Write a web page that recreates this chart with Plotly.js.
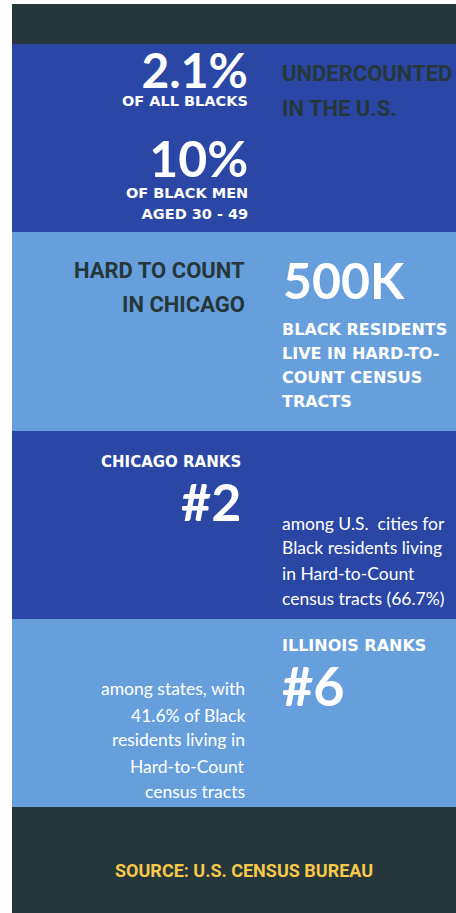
<!DOCTYPE html>
<html><head><meta charset="utf-8">
<script src="https://cdn.plot.ly/plotly-3.0.1.min.js"></script>
<style>html,body{margin:0;padding:0;background:#fff;overflow:hidden}</style>
</head><body><div id="chart" style="width:456px;height:913px"></div>
<script>
// ---- data ----
const sections = ['header', 'undercount', 'hardToCount', 'chicagoRank', 'illinoisRank', 'source'];
const sectionHeights = [40, 188, 199, 188, 188, 106];
const undercountStats = ['2.1%', '10%'];
const undercountLabels = ['OF ALL BLACKS', 'OF BLACK MEN', 'AGED 30 - 49'];
const undercountTitle = ['UNDERCOUNTED', 'IN THE U.S.'];
const hardTitle = ['HARD TO COUNT', 'IN CHICAGO'];
const hardStat = '500K';
const hardLabel = ['BLACK RESIDENTS', 'LIVE IN HARD-TO-', 'COUNT CENSUS', 'TRACTS'];
const chicagoTitle = 'CHICAGO RANKS';
const chicagoRank = '#2';
const chicagoText = ['among U.S.\u00a0 cities for', 'Black residents living', 'in Hard-to-Count', 'census tracts (66.7%)'];
const illinoisTitle = 'ILLINOIS RANKS';
const illinoisRank = '#6';
const illinoisText = ['among states, with', '41.6% of Black', 'residents living in', 'Hard-to-Count', 'census tracts'];
const sourceText = 'SOURCE: U.S. CENSUS BUREAU';

// ---- style ----
const DARK = '#25373b', BLUE = '#2a47a5', LIGHT = '#679fdd', WHITE = '#ffffff', YELLOW = '#f7c84a';
const sectionColors = [DARK, BLUE, LIGHT, BLUE, LIGHT, DARK];
const L = 12, T = 4, W = 456, H = 913, PW = W - L;

const bases = [];
sectionHeights.reduce((acc, h) => { bases.push(acc); return acc + h; }, 0);
const total = sectionHeights.reduce((a, b) => a + b, 0);

const trace = {
  type: 'bar', x: sections.map(() => 0), y: sectionHeights, base: bases,
  width: 1, marker: { color: sectionColors, line: { width: 0 } },
  hoverinfo: 'skip', text: sections, textposition: 'none'
};

const big = (size, color) => ({ family: 'Lato, Roboto, sans-serif', size: size, color: color, weight: 700 });
const heavy = (size, color) => ({ family: '"DejaVu Sans", sans-serif', size: size, color: color, weight: 700 });
const cond = (size, color) => ({ family: 'Roboto, sans-serif', size: size, color: color, weight: 700 });
const body = (size, color) => ({ family: 'Lato, sans-serif', size: size, color: color, weight: 400 });

const anns = [];
function ann(text, xp, yp, anchor, font, yanchor) {
  const dx = anchor === 'left' ? -2.5 : anchor === 'right' ? 2.5 : 0;
  anns.push({ text: text, xref: 'paper', x: (xp + dx - L) / PW, yref: 'y', y: yp - T,
    xanchor: anchor, yanchor: yanchor || 'middle', showarrow: false, font: font,
    align: anchor === 'center' ? 'center' : anchor });
}
const bigSpan = (t, size) => `<span style="font-family:Lato;font-weight:700;font-size:${size}px">${t}</span>`;
const smallSpan = (t, size) => `<span style="font-size:${size}px">${t}</span>`;

// stat + label blocks (line spacing = 1.3 x annotation font size)
ann(bigSpan(undercountStats[0], 48) + '<br>' + smallSpan(undercountLabels[0], 14.5),
    247, 111, 'right', heavy(13.85, WHITE), 'bottom');
ann(bigSpan(undercountStats[1], 50) + '<br>' + smallSpan(undercountLabels[1], 14.5) + '<br>' + smallSpan(undercountLabels[2], 14.5),
    247, 224, 'right', heavy(16.15, WHITE), 'bottom');
[73.5, 108.5].forEach((y, i) => ann(undercountTitle[i], 282, y, 'left', cond(22, DARK)));
[270.5, 304].forEach((y, i) => ann(hardTitle[i], 245, y, 'right', cond(22, DARK)));
ann(hardStat, 283, 280, 'left', big(50, WHITE));
[329.5, 353, 377, 401].forEach((y, i) => ann(hardLabel[i], 282, y, 'left', heavy(16, WHITE)));
ann(chicagoTitle, 241, 462, 'right', heavy(15, WHITE));
ann(chicagoRank, 241, 500.5, 'right', big(52, WHITE));
[523, 547, 573, 598.5].forEach((y, i) => ann(chicagoText[i], 282, y, 'left', body(17.5, WHITE)));
ann(illinoisTitle, 282, 645.5, 'left', heavy(16, WHITE));
ann(illinoisRank, 282, 685.5, 'left', big(54, WHITE));
[688.5, 715, 739.5, 766, 791.5].forEach((y, i) => ann(illinoisText[i], 245, y, 'right', body(17.5, WHITE)));
ann(sourceText, 244, 870.5, 'center', cond(18, YELLOW));

const layout = {
  width: W, height: H, margin: { l: L, r: 0, t: T, b: 0, pad: 0 },
  paper_bgcolor: '#ffffff', plot_bgcolor: '#ffffff', showlegend: false,
  bargap: 0,
  xaxis: { range: [-0.5, 0.5], visible: false, fixedrange: true },
  yaxis: { range: [total, 0], visible: false, fixedrange: true },
  annotations: anns
};
Plotly.newPlot('chart', [trace], layout, { staticPlot: true, displayModeBar: false });
</script></body></html>
